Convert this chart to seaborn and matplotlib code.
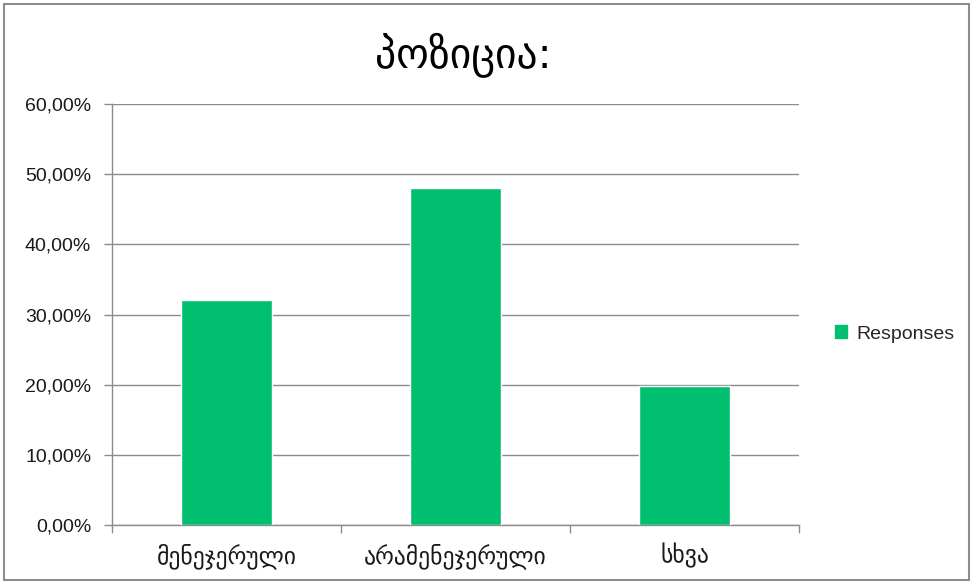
import matplotlib
matplotlib.use("Agg")
import matplotlib.pyplot as plt
import matplotlib.patches as mpatches
from matplotlib.ticker import FuncFormatter, MultipleLocator
import seaborn as sns
import pandas as pd

categories = ["მენეჯერული", "არამენეჯერული", "სხვა"]
shares = [0.321, 0.481, 0.198]
series_name = "Responses"
title = "პოზიცია:"

df = pd.DataFrame({"category": categories, "share": shares})

sns.set_theme(style="white")
plt.rcParams["font.family"] = ["Liberation Sans", "DejaVu Sans"]

bar_color = "#00BF6F"
grid_color = "#8C8C8C"

fig = plt.figure(figsize=(9.73, 5.84), dpi=100)
ax = fig.add_axes([0.1151, 0.1010, 0.8212 - 0.1151, 0.8219 - 0.1010])

sns.barplot(data=df, x="category", y="share", color=bar_color, width=0.4,
            saturation=1, ax=ax, zorder=3)

ax.set_ylim(0, 0.6)
ax.set_xlim(-0.5, 2.5)
ax.yaxis.set_major_locator(MultipleLocator(0.1))
ax.yaxis.set_major_formatter(
    FuncFormatter(lambda v, _: f"{v * 100:.2f}%".replace(".", ",")))
ax.grid(axis="y", color=grid_color, linewidth=1.0, zorder=0)
ax.set_axisbelow(True)

for side in ("top", "right"):
    ax.spines[side].set_visible(False)
for side in ("left", "bottom"):
    ax.spines[side].set_color(grid_color)
    ax.spines[side].set_linewidth(1.0)

ax.set_xlabel("")
ax.set_ylabel("")
ax.tick_params(axis="y", which="major", left=True, length=6, width=1,
               color=grid_color, labelsize=14, labelcolor="#1a1a1a", pad=9)
ax.tick_params(axis="x", which="major", bottom=False, labelsize=17,
               labelcolor="#1a1a1a", pad=7)
# category separators on the x axis
ax.set_xticks([-0.5, 0.5, 1.5, 2.5], minor=True)
ax.tick_params(axis="x", which="minor", bottom=True, length=6, width=1,
               color=grid_color)

fig.text(0.476, 0.905, title, ha="center", va="center", fontsize=30,
         family=["DejaVu Sans"], color="black")

handle = mpatches.Patch(color=bar_color, label=series_name)
fig.legend(handles=[handle], loc="center left", bbox_to_anchor=(0.850, 0.428),
           frameon=False, fontsize=14, handlelength=0.65, handleheight=0.65,
           handletextpad=0.45, borderaxespad=0)

# outer chart border
fig.patches.append(mpatches.Rectangle((0.004, 0.006), 0.992, 0.987,
                                      transform=fig.transFigure, fill=False,
                                      edgecolor="#8C8C8C", linewidth=1.5))

fig.savefig("out.png", dpi=100)
